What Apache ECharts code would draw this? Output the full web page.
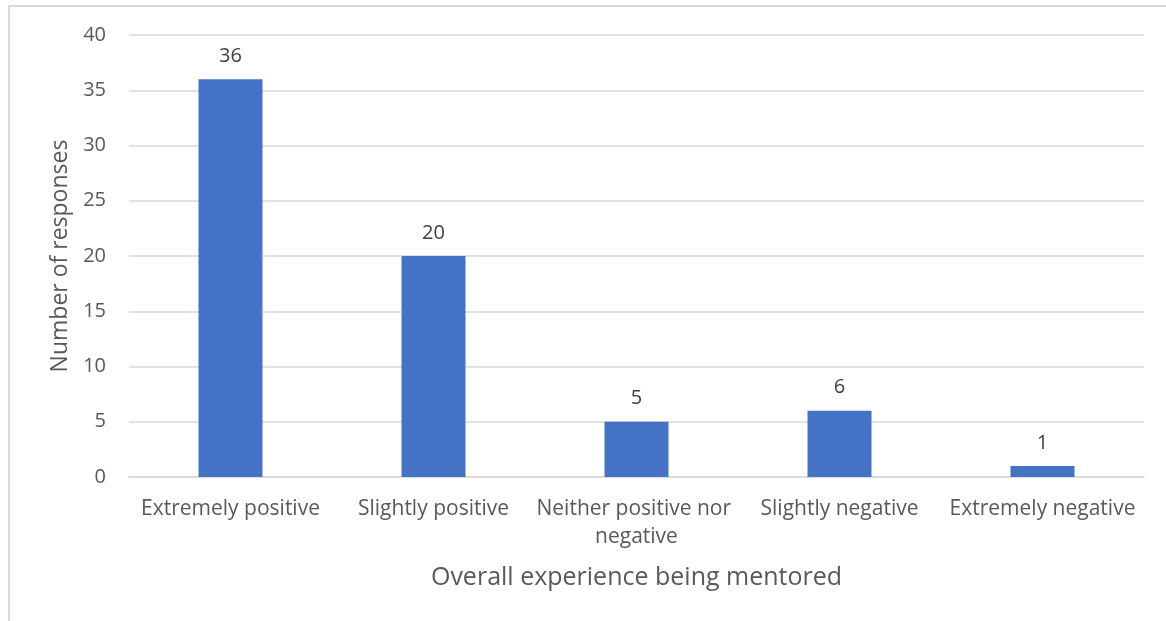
<!DOCTYPE html>
<html>
<head>
<meta charset="utf-8">
<script src="https://cdn.jsdelivr.net/npm/echarts@6/dist/echarts.min.js"></script>
<style>
  html, body { margin: 0; padding: 0; background: #fff; }
  #frame { position: absolute; left: 8px; top: 5px; width: 1170px; height: 630px; border: 2px solid #d9d9d9; box-sizing: border-box; }
  #chart { position: absolute; left: 0; top: 0; width: 1166px; height: 621px; }
</style>
</head>
<body>
<div id="frame"></div>
<div id="chart"></div>
<script>
// categories and counts
const categories = [
  "Extremely positive",
  "Slightly positive",
  "Neither positive nor negative",
  "Slightly negative",
  "Extremely negative"
];
const responses = [36, 20, 5, 6, 1];
const yTicks = [0, 5, 10, 15, 20, 25, 30, 35, 40];

const font = "Open Sans";
const chart = echarts.init(document.getElementById("chart"));

chart.setOption({
  animation: false,
  textStyle: { fontFamily: font },
  grid: { left: 129, right: 22, top: 35, bottom: 144 },
  xAxis: {
    type: "category",
    data: categories,
    name: "Overall experience being mentored",
    nameLocation: "middle",
    nameGap: 88,
    nameTextStyle: { fontSize: 25, color: "#595959", fontFamily: font },
    axisLine: { lineStyle: { color: "#d9d9d9", width: 1.5 } },
    axisTick: { show: false },
    axisLabel: {
      color: "#595959",
      fontSize: 21,
      margin: 18,
      lineHeight: 28,
      width: 225,
      overflow: "break",
      interval: 0
    }
  },
  yAxis: {
    type: "value",
    min: yTicks[0],
    max: yTicks[yTicks.length - 1],
    interval: 5,
    name: "Number of responses",
    nameLocation: "middle",
    nameGap: 57,
    nameRotate: 90,
    nameTextStyle: { fontSize: 23, color: "#595959", fontFamily: font },
    axisLine: { show: false },
    axisTick: { show: false },
    axisLabel: { color: "#595959", fontSize: 20, margin: 23 },
    splitLine: { lineStyle: { color: "#d9d9d9", width: 1.5 } }
  },
  series: [{
    type: "bar",
    data: responses,
    barWidth: 64,
    itemStyle: { color: "#4472c4" },
    label: {
      show: true,
      position: "top",
      distance: 13,
      color: "#404040",
      fontSize: 20,
      fontFamily: font
    }
  }]
});
</script>
</body>
</html>
